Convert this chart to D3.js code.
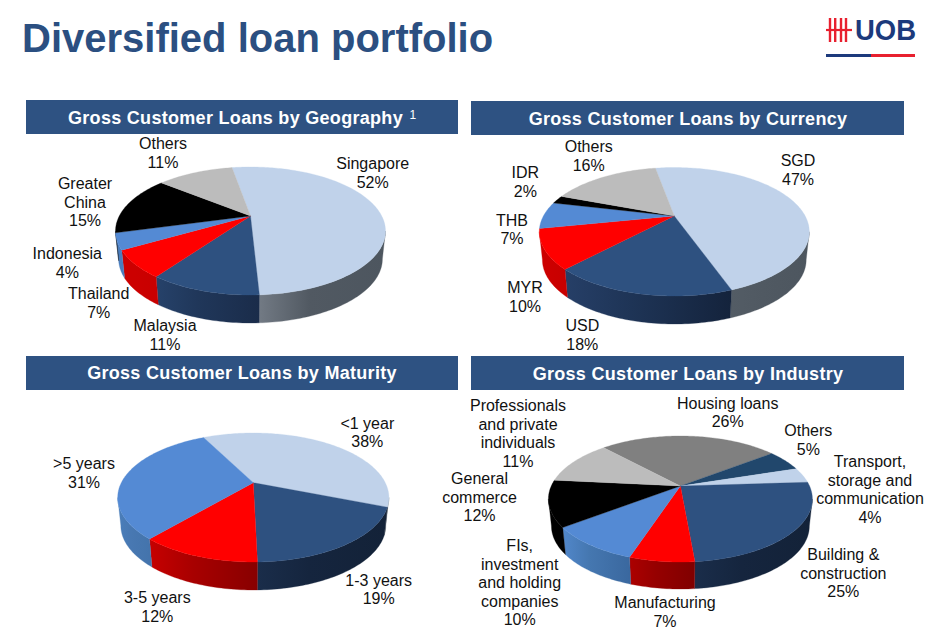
<!DOCTYPE html>
<html><head><meta charset="utf-8">
<script src="https://cdn.jsdelivr.net/npm/d3@7"></script>
<style>html,body{margin:0;padding:0;background:#fff}svg{display:block;font-family:"Liberation Sans",Arial,sans-serif}</style>
</head><body><svg id="c" width="932" height="643"></svg>
<script>
// ---------- data ----------
const pageTitle = "Diversified loan portfolio";
const geoTitle = "Gross Customer Loans by Geography";
const geoLabels = [["Singapore"],["Malaysia"],["Thailand"],["Indonesia"],["Greater","China"],["Others"]];
const geoPercents = [52,11,7,4,15,11];            // printed on the chart
const geoShares = [51.9,10.7,6.8,4.1,15.0,11.4];  // slice sizes
const curTitle = "Gross Customer Loans by Currency";
const curLabels = [["SGD"],["USD"],["MYR"],["THB"],["IDR"],["Others"]];
const curPercents = [47,18,10,7,2,16];
const curShares = [47.4,17.5,9.8,6.8,2.1,16.4];
const matTitle = "Gross Customer Loans by Maturity";
const matLabels = [["<1 year"],["1-3 years"],["3-5 years"],[">5 years"]];
const matPercents = [38,19,12,31];
const matShares = [38.4,18.6,11.6,31.2];
const indTitle = "Gross Customer Loans by Industry";
const indLabels = [["Housing loans"],["Others"],["Transport,","storage and","communication"],["Building &","construction"],["Manufacturing"],["FIs,","investment","and holding","companies"],["General","commerce"],["Professionals","and private","individuals"]];
const indPercents = [26,5,4,25,7,10,12,11];
const indShares = [26.4,5.4,3.9,24.4,6.5,9.5,11.8,11.4];

// ---------- styling ----------
const LIGHT="#c0d2ea",NAVY="#2e5180",RED="#ff0000",BLUE="#548ad4",BLACK="#000000",GRAY="#bcbcbc",DARK="#808080",TEAL="#21476c";
const geoFill=[LIGHT,NAVY,RED,BLUE,BLACK,GRAY];
const geoWall=[["#727a84","#515962","#4d565f"],["#26426a","#20375a","#1a2c4a"],["#cc0000","#cc0000","#c80000"],["#4a7dbd","#4a7dbd","#4a7dbd"],["#000","#000","#000"],["#999","#999","#999"]];
const curFill=[LIGHT,NAVY,RED,BLUE,BLACK,GRAY];
const curWall=[["#535c65","#505962","#4d565f"],["#263f67","#1e3456","#14233c"],["#cc0000","#cc0000","#c80000"],["#4a7dbd","#4a7dbd","#4a7dbd"],["#000","#000","#000"],["#999","#999","#999"]];
const matFill=[LIGHT,NAVY,RED,BLUE];
const matWall=[["#505962","#505962","#505962"],["#1a2d4a","#15253e","#132238"],["#c60000","#a80000","#880000"],["#4a7eba","#4878b2","#4474ac"]];
const indFill=[DARK,TEAL,LIGHT,NAVY,RED,BLUE,BLACK,GRAY];
const indWall=[["#666","#666","#666"],["#18344f","#18344f","#18344f"],["#8e9dae","#8e9dae","#8e9dae"],["#1a2d4a","#15253e","#132238"],["#ac0000","#960000","#800000"],["#5187ca","#4577b0","#3a689f"],["#000","#000","#000"],["#8c8c8c","#8c8c8c","#8c8c8c"]];

// label anchors: [centre x, first baseline]
const geoPos=[[372.7,169],[165,331],[98.7,299],[67.3,259],[85,189],[163,149]];
const curPos=[[798,166],[582.3,331],[525,293],[512,225.5],[525.3,178],[588.7,152]];
const matPos=[[367.3,428.5],[378.7,585.7],[157.3,603],[84,469]];
const indPos=[[727.7,408.5],[808.3,436],[870,467],[843.3,560],[665,608],[519.7,551],[479.5,484],[518,411]];

const charts=[
 {title:geoTitle,sup:"1",labels:geoLabels,percents:geoPercents,shares:geoShares,fill:geoFill,wall:geoWall,pos:geoPos,
  band:[26,100,432,34],tx:235.5,ty:123.5,ax:250.5,ay:216,top:49,bot:79,half:135,depth:28,start:-10},
 {title:curTitle,labels:curLabels,percents:curPercents,shares:curShares,fill:curFill,wall:curWall,pos:curPos,
  band:[471,101,433,34],tx:688,ty:124.7,ax:674.3,ay:216,top:48.5,bot:80,half:135,depth:28,start:-10.3},
 {title:matTitle,labels:matLabels,percents:matPercents,shares:matShares,fill:matFill,wall:matWall,pos:matPos,
  band:[26,356,432,34],tx:242,ty:379,ax:253.3,ay:482.7,top:49.7,bot:79.3,half:135.6,depth:28,start:-27},
 {title:indTitle,labels:indLabels,percents:indPercents,shares:indShares,fill:indFill,wall:indWall,pos:indPos,
  band:[471,356,433,34],tx:688,ty:379.7,ax:680.4,ay:486,top:50,bot:76,half:132,depth:27,start:-43}
];

const svg=d3.select("#c"), defs=svg.append("defs");
svg.append("text").attr("x",22).attr("y",52).attr("font-size",40).attr("font-weight","bold").attr("fill","#2b4f81").text(pageTitle);

// UOB logo
const logo=svg.append("g");
const logoBars=[830,835.2,841,846];
logo.selectAll("line.v").data(logoBars).join("line").attr("x1",d=>d).attr("x2",d=>d).attr("y1",18).attr("y2",42).attr("stroke","#e8202f").attr("stroke-width",2.4);
logo.append("line").attr("x1",826).attr("x2",852).attr("y1",30).attr("y2",30).attr("stroke","#e8202f").attr("stroke-width",2.2);
logo.append("text").attr("x",855).attr("y",40).attr("font-size",29).attr("font-weight","bold").attr("fill","#1c3a7c").attr("textLength",61).attr("lengthAdjust","spacingAndGlyphs").text("UOB");
logo.append("rect").attr("x",826).attr("y",54).attr("width",45).attr("height",3).attr("fill","#1c3a7c");
logo.append("rect").attr("x",871).attr("y",54).attr("width",44).attr("height",3).attr("fill","#e8202f");

const line=d3.line();
charts.forEach((c,ci)=>{
  const g=svg.append("g");
  g.append("rect").attr("x",c.band[0]).attr("y",c.band[1]).attr("width",c.band[2]).attr("height",c.band[3]).attr("fill","#2e5282");
  g.append("text").attr("x",c.tx).attr("y",c.ty).attr("text-anchor","middle").attr("font-size",18).attr("font-weight","bold").attr("letter-spacing",0.3).attr("fill","#fff").text(c.title);
  if(c.sup) g.append("text").attr("x",c.tx+174).attr("y",c.ty-5).attr("font-size",12).attr("fill","#fff").text(c.sup);

  // perspective projection of a unit disc
  const p=(c.bot-c.top)/(c.bot+c.top), Ry=c.top*(1+p), Rx=c.half*Math.sqrt(1-p*p);
  const proj=a=>{const u=Math.sin(a),v=-Math.cos(a),w=1-p*v;return [c.ax+Rx*u/w,c.ay+Ry*v/w];};
  const frontA=Math.acos(-p), frontB=2*Math.PI-frontA;
  const drop=q=>[c.ax+(q[0]-c.ax)*0.977,q[1]+c.depth];

  const s0=c.start*Math.PI/180;
  const arcs=d3.pie().sort(null).startAngle(s0).endAngle(s0+2*Math.PI)(c.shares);
  const samples=(a,b)=>{const n=Math.max(2,Math.ceil((b-a)/0.02));const sc=d3.scaleLinear().domain([0,n]).range([a,b]);return d3.range(n+1).map(sc);};

  // walls
  arcs.forEach((d,i)=>{
    [0,2*Math.PI].forEach(off=>{
      const a=Math.max(d.startAngle+off,frontA), b=Math.min(d.endAngle+off,frontB);
      if(b<=a) return;
      const topEdge=samples(a,b).map(proj);
      const xs=topEdge.map(q=>q[0]);
      const id=`w${ci}_${i}_${off?1:0}`;
      const gr=defs.append("linearGradient").attr("id",id).attr("gradientUnits","userSpaceOnUse")
        .attr("x1",d3.min(xs)).attr("x2",d3.max(xs)).attr("y1",0).attr("y2",0);
      c.wall[i].forEach((col,k)=>gr.append("stop").attr("offset",k===1?0.4:k/2).attr("stop-color",col));
      const poly=topEdge.concat(topEdge.slice().reverse().map(drop));
      g.append("path").attr("d",line(poly)+"Z").attr("fill",`url(#${id})`).attr("stroke",`url(#${id})`).attr("stroke-width",0.3);
    });
  });
  // top faces
  arcs.forEach((d,i)=>{
    const pts=[[c.ax,c.ay]].concat(samples(d.startAngle,d.endAngle).map(proj));
    g.append("path").attr("d",line(pts)+"Z").attr("fill",c.fill[i]).attr("stroke",c.fill[i]).attr("stroke-width",0.3);
  });
  // labels
  c.labels.forEach((ls,i)=>{
    const lines=ls.concat([c.percents[i]+"%"]);
    const tx=g.append("text").attr("text-anchor","middle").attr("font-size",16).attr("fill","#111");
    lines.forEach((l,k)=>tx.append("tspan").attr("x",c.pos[i][0]).attr("y",c.pos[i][1]+k*18.5).text(l));
  });
});
</script></body></html>
